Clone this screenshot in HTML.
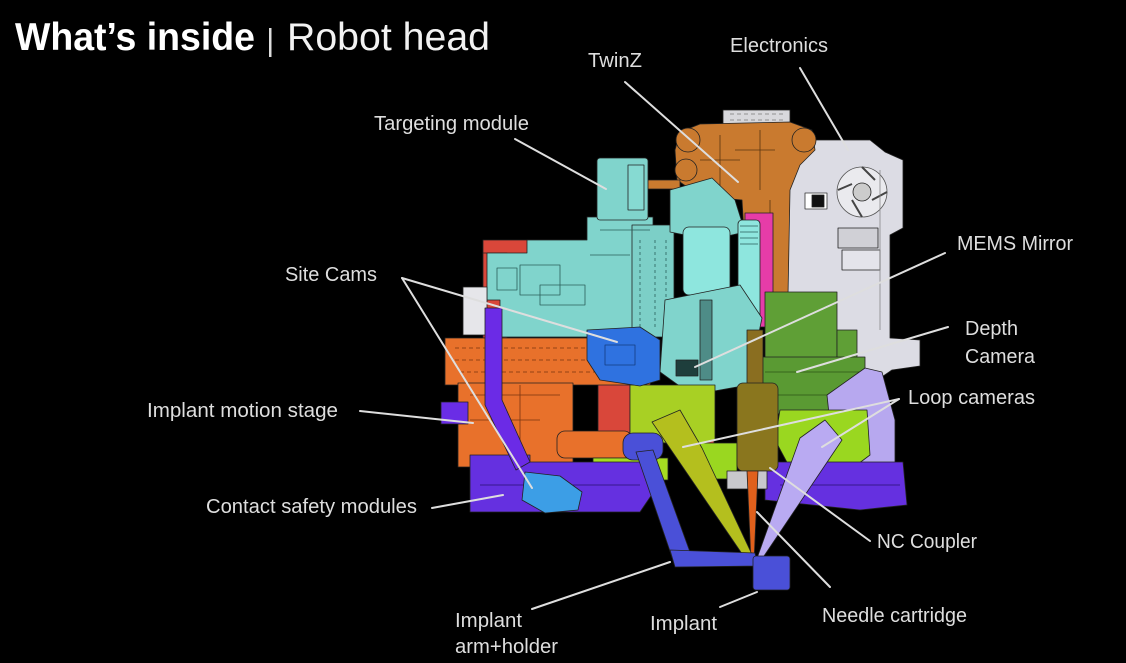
<!DOCTYPE html>
<html><head><meta charset="utf-8"><style>
html,body{margin:0;padding:0;background:#000;}
svg{display:block;}
text{font-family:"Liberation Sans",Arial,sans-serif;fill:#dedede;}
</style></head><body>
<svg width="1126" height="663" viewBox="0 0 1126 663" xmlns="http://www.w3.org/2000/svg">
<rect width="1126" height="663" fill="#000"/>

<!-- Title -->
<text x="15" y="50" font-size="39" font-weight="bold" textLength="240" lengthAdjust="spacingAndGlyphs" style="fill:#fff">What’s inside</text>
<rect x="269" y="28" width="2.5" height="29" fill="#ddd"/>
<text x="287" y="50" font-size="39" textLength="203" lengthAdjust="spacingAndGlyphs" style="fill:#f2f2f2">Robot head</text>

<g stroke="#222" stroke-width="0.8" stroke-linejoin="round">
<!-- Electronics gray -->
<rect x="723" y="110" width="67" height="18" fill="#d8d8dc"/>
<path d="M730,114 h55 M730,120 h55" stroke="#777" stroke-dasharray="4 3" fill="none"/>
<polygon points="787,150 812,140 870,140 885,152 903,160 903,228 890,235 890,338 920,340 920,366 892,370 870,385 830,385 787,360" fill="#dcdce4"/>
<rect x="805" y="193" width="22" height="16" fill="#fff" stroke="#333"/>
<rect x="812" y="195" width="12" height="12" fill="#111"/>
<circle cx="862" cy="192" r="25" fill="#eaeaee" stroke="#555"/>
<circle cx="862" cy="192" r="9" fill="#ccc"/>
<path d="M862,167 L875,180 M887,192 L872,200 M862,217 L852,200 M838,190 L852,184" stroke="#444" stroke-width="2" fill="none"/>
<rect x="838" y="228" width="40" height="20" fill="#d0d0d6"/>
<rect x="842" y="250" width="38" height="20" fill="#e4e4ea"/>
<path d="M880,170 L880,330" stroke="#888" fill="none"/>

<!-- Orange TwinZ -->
<polygon points="680,132 700,124 790,122 812,130 815,150 800,165 790,190 788,295 772,300 748,300 742,200 700,196 677,180 675,150" fill="#c97a2f"/>
<circle cx="688" cy="140" r="12" fill="#c97a2f"/>
<circle cx="804" cy="140" r="12" fill="#c97a2f"/>
<circle cx="686" cy="170" r="11" fill="#c97a2f"/>
<rect x="625" y="180" width="55" height="9" fill="#c97a2f"/>
<path d="M720,135 L720,190 M760,130 L760,190 M735,150 L775,150 M700,160 L740,160 M770,200 L770,290" stroke="#5a3510" fill="none"/>

<!-- Pink -->
<rect x="745" y="213" width="28" height="114" fill="#e63ca8"/>

<!-- Red behind -->
<rect x="483" y="240" width="104" height="20" fill="#d9473a"/>
<rect x="483" y="253" width="24" height="85" fill="#d9473a"/>
<rect x="598" y="380" width="32" height="90" fill="#d9473a"/>
<rect x="690" y="420" width="24" height="24" fill="#d9473a"/>

<!-- Teal targeting module -->
<polygon points="487,253 527,253 527,240 587,240 587,217 653,217 653,337 500,337 500,300 487,300" fill="#80d4cc"/>
<rect x="597" y="158" width="51" height="62" rx="3" fill="#80d4cc"/>
<rect x="628" y="165" width="16" height="45" fill="#86dad2"/>
<rect x="632" y="225" width="42" height="112" fill="#7ccfc7"/>
<path d="M640,240 L640,330 M655,240 L655,330 M666,240 L666,330" stroke="#2a5e5a" stroke-dasharray="3 3" fill="none"/>
<polygon points="670,190 712,178 735,200 745,232 710,240 670,232" fill="#80d4cc"/>
<rect x="683" y="227" width="47" height="68" rx="6" fill="#8ee6de"/>
<rect x="738" y="220" width="22" height="107" rx="4" fill="#8ee6de"/>
<path d="M740,226 L758,226 M740,232 L758,232 M740,238 L758,238 M740,244 L758,244" stroke="#2a5e5a" fill="none"/>
<polygon points="665,300 740,285 762,318 748,385 692,395 660,372" fill="#80d4cc"/>
<rect x="700" y="300" width="12" height="80" fill="#4e8c87"/>
<rect x="676" y="360" width="22" height="16" fill="#1e3e3c"/>
<rect x="520" y="265" width="40" height="30" fill="none" stroke="#2a5e5a"/>
<rect x="540" y="285" width="45" height="20" fill="none" stroke="#2a5e5a"/>
<rect x="497" y="268" width="20" height="22" fill="none" stroke="#2a5e5a"/>
<path d="M600,230 L650,230 M590,255 L630,255" stroke="#2a5e5a" fill="none"/>

<!-- White left piece -->
<rect x="463" y="287" width="24" height="48" fill="#e6e6ea"/>

<!-- Dark green -->
<rect x="765" y="292" width="72" height="70" fill="#5f9f36"/>
<rect x="837" y="330" width="20" height="28" fill="#5f9f36"/>
<polygon points="757,357 865,357 865,413 780,415 757,395" fill="#5a9a33"/>
<path d="M765,372 L860,372 M775,395 L862,395" stroke="#2e5418" fill="none"/>

<!-- Lavender block -->
<polygon points="827,395 865,368 882,372 895,420 895,468 835,472" fill="#b7a8ef"/>

<!-- Lime right -->
<polygon points="780,410 867,410 870,455 850,470 790,468 775,440" fill="#9ad720"/>

<!-- Orange implant motion stage -->
<polygon points="445,338 640,338 657,360 650,385 600,385 445,385" fill="#e8712b"/>
<path d="M455,348 L630,348 M455,360 L630,360 M460,372 L600,372" stroke="#7a3510" stroke-dasharray="4 3" fill="none"/>
<rect x="458" y="383" width="115" height="84" fill="#e8712b"/>
<path d="M470,395 L560,395 M470,420 L540,420 M520,385 L520,460" stroke="#7a3510" fill="none"/>
<rect x="557" y="431" width="75" height="27" rx="8" fill="#e8712b"/>

<!-- Light green -->
<polygon points="630,385 715,385 715,440 690,445 630,440" fill="#a8d024"/>
<rect x="593" y="458" width="75" height="22" fill="#a6dc22"/>
<rect x="700" y="443" width="37" height="36" fill="#9ad720"/>

<!-- Purple -->
<rect x="441" y="402" width="27" height="22" fill="#6a2de6"/>
<polygon points="470,455 530,455 530,462 655,462 655,490 640,512 470,512" fill="#6530e0"/>
<polygon points="765,462 903,462 907,505 860,510 765,500" fill="#6530e0"/>
<path d="M480,485 L640,485 M780,485 L900,485" stroke="#2a1070" fill="none"/>
<polygon points="485,308 502,308 502,400 530,462 516,470 485,405" fill="#6b2be6"/>

<!-- Blue site cams -->
<polygon points="587,330 640,327 660,340 660,380 640,386 600,380 587,360" fill="#2f72e0"/>
<rect x="605" y="345" width="30" height="20" fill="none" stroke="#143c80"/>

<!-- Light blue contact safety -->
<polygon points="525,472 560,476 582,492 578,510 545,513 522,500" fill="#3c9ee6"/>

<!-- Needle cartridge -->
<rect x="747" y="330" width="16" height="58" fill="#8a6e20"/>
<rect x="737" y="383" width="41" height="88" rx="6" fill="#8a761e"/>
<rect x="727" y="471" width="40" height="18" fill="#c8c8cc"/>

<!-- Orange needle -->
<polygon points="747,471 758,471 754,562 751,562" fill="#e0601c"/>

<!-- Olive cone -->
<polygon points="652,422 680,410 702,448 756,563 749,564" fill="#b4bf1e"/>

<!-- Lavender cone -->
<polygon points="800,438 825,420 842,440 760,562 756,561" fill="#b9aaf2"/>

<!-- Indigo arm -->
<rect x="623" y="433" width="40" height="27" rx="10" fill="#4a50d8"/>
<polygon points="636,452 653,450 690,552 673,560" fill="#4a50d8"/>
<polygon points="670,550 755,553 758,566 675,567" fill="#4a50d8"/>
<rect x="753" y="556" width="37" height="34" rx="3" fill="#4a50d8"/>
</g>

<!-- Leader lines -->
<g stroke="#dedede" stroke-width="2" fill="none" stroke-linecap="round">
<line x1="515" y1="139" x2="606" y2="189"/>
<line x1="625" y1="82" x2="738" y2="182"/>
<line x1="800" y1="68" x2="848" y2="150"/>
<line x1="945" y1="253" x2="695" y2="367"/>
<line x1="948" y1="327" x2="797" y2="372"/>
<line x1="899" y1="399" x2="683" y2="447"/>
<line x1="899" y1="399" x2="822" y2="447"/>
<line x1="870" y1="541" x2="770" y2="468"/>
<line x1="830" y1="587" x2="757" y2="512"/>
<line x1="720" y1="607" x2="757" y2="592"/>
<line x1="532" y1="609" x2="670" y2="562"/>
<line x1="432" y1="508" x2="503" y2="495"/>
<line x1="360" y1="411" x2="473" y2="423"/>
<line x1="402" y1="278" x2="617" y2="342"/>
<line x1="402" y1="278" x2="532" y2="488"/>
</g>

<!-- Labels -->
<g font-size="20">
<text x="374" y="130" textLength="155" lengthAdjust="spacingAndGlyphs">Targeting module</text>
<text x="588" y="67" textLength="54" lengthAdjust="spacingAndGlyphs">TwinZ</text>
<text x="730" y="52" textLength="98" lengthAdjust="spacingAndGlyphs">Electronics</text>
<text x="957" y="250" textLength="116" lengthAdjust="spacingAndGlyphs">MEMS Mirror</text>
<text x="965" y="335" textLength="53" lengthAdjust="spacingAndGlyphs">Depth</text>
<text x="965" y="363" textLength="70" lengthAdjust="spacingAndGlyphs">Camera</text>
<text x="908" y="404" textLength="127" lengthAdjust="spacingAndGlyphs">Loop cameras</text>
<text x="877" y="548" textLength="100" lengthAdjust="spacingAndGlyphs">NC Coupler</text>
<text x="822" y="622" textLength="145" lengthAdjust="spacingAndGlyphs">Needle cartridge</text>
<text x="650" y="630" textLength="67" lengthAdjust="spacingAndGlyphs">Implant</text>
<text x="455" y="627" textLength="67" lengthAdjust="spacingAndGlyphs">Implant</text>
<text x="455" y="653" textLength="103" lengthAdjust="spacingAndGlyphs">arm+holder</text>
<text x="206" y="513" textLength="211" lengthAdjust="spacingAndGlyphs">Contact safety modules</text>
<text x="147" y="417" textLength="191" lengthAdjust="spacingAndGlyphs">Implant motion stage</text>
<text x="285" y="281" textLength="92" lengthAdjust="spacingAndGlyphs">Site Cams</text>
</g>
</svg>
</body></html>
